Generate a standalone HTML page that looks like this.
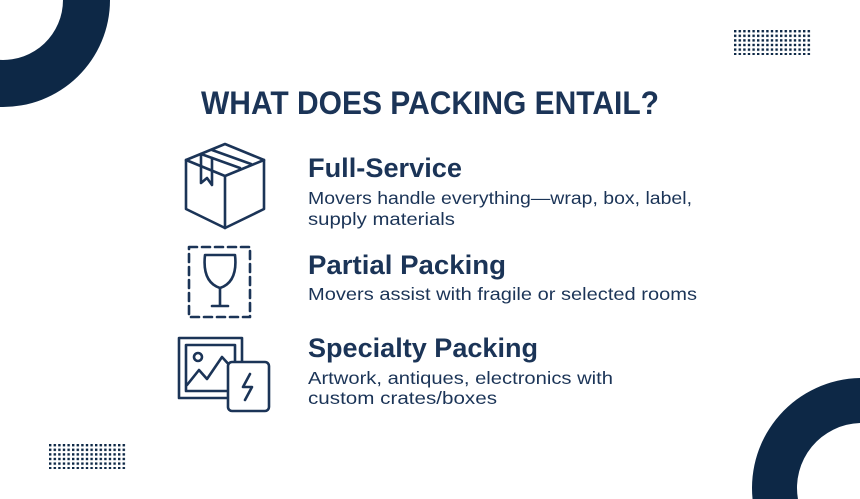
<!DOCTYPE html>
<html><head><meta charset="utf-8"><style>html,body{margin:0;padding:0;background:#fff;width:860px;height:499px;overflow:hidden}svg{display:block}</style></head>
<body>
<svg width="860" height="499" viewBox="0 0 860 499" xmlns="http://www.w3.org/2000/svg">
<defs>
<pattern id="dots" x="734" y="30" width="4.6" height="4.6" patternUnits="userSpaceOnUse">
<rect x="0" y="0" width="2.4" height="2.4" fill="#0d2846"/>
</pattern>
<pattern id="dots2" x="49" y="444" width="4.6" height="4.6" patternUnits="userSpaceOnUse">
<rect x="0" y="0" width="2.4" height="2.4" fill="#0d2846"/>
</pattern>
</defs>
<path d="M110 0 A107 107 0 0 1 0 106.96 L0 59.92 A60 60 0 0 0 63 0 Z" fill="#0d2846"/>
<path d="M860 378.02 A110 110 0 0 0 752.55 499 L797.94 499 A65 65 0 0 1 860 423.03 Z" fill="#0d2846"/>
<rect x="734" y="30" width="77" height="25" fill="url(#dots)"/>
<rect x="49" y="444" width="77" height="25" fill="url(#dots2)"/>

<g font-family="Liberation Sans, sans-serif" fill="#1b3457">
<text x="430" y="114" text-anchor="middle" font-size="32" font-weight="bold" textLength="458" lengthAdjust="spacingAndGlyphs">WHAT DOES PACKING ENTAIL?</text>
<g font-size="27" font-weight="bold">
<text x="308" y="177" textLength="154" lengthAdjust="spacingAndGlyphs">Full-Service</text>
<text x="308" y="274" textLength="198" lengthAdjust="spacingAndGlyphs">Partial Packing</text>
<text x="308" y="357" textLength="230" lengthAdjust="spacingAndGlyphs">Specialty Packing</text>
</g>
<g font-size="17.5">
<text x="308" y="204" textLength="384" lengthAdjust="spacingAndGlyphs">Movers handle everything—wrap, box, label,</text>
<text x="308" y="225" textLength="147" lengthAdjust="spacingAndGlyphs">supply materials</text>
<text x="308" y="300" textLength="389" lengthAdjust="spacingAndGlyphs">Movers assist with fragile or selected rooms</text>
<text x="308" y="384" textLength="305" lengthAdjust="spacingAndGlyphs">Artwork, antiques, electronics with</text>
<text x="308" y="404" textLength="189" lengthAdjust="spacingAndGlyphs">custom crates/boxes</text>
</g>
</g>

<g fill="none" stroke="#1b3457" stroke-width="2.6" stroke-linejoin="round" stroke-linecap="round">
<path d="M186 160 L225 144 L264 160 L264 209 L225 228 L186 209 Z"/>
<path d="M186 160 L225 176 L264 160 M225 176 L225 228"/>
<path d="M201 154 L240 168 M212 150 L251 164"/>
<path d="M201 154 L201 183 L207 178 L212 185 L212 158"/>
<rect x="189" y="247" width="61" height="70" stroke-dasharray="8,5"/>
<path d="M205 255 L235 255 Q238 282 220 288 Q202 282 205 255 Z"/>
<path d="M220 288 L220 306 M212 306 L228 306"/>
<rect x="179" y="338" width="63" height="60"/>
<rect x="186" y="345" width="49" height="46"/>
<circle cx="198" cy="357" r="4"/>
<path d="M187 385 L199 370 L207 379 L222 357 L232 368"/>
<rect x="228" y="362" width="41" height="49" rx="4" fill="#fff"/>
<path d="M250 374 L243 387 L252 387 L245 400"/>
</g>
</svg>
</body></html>
